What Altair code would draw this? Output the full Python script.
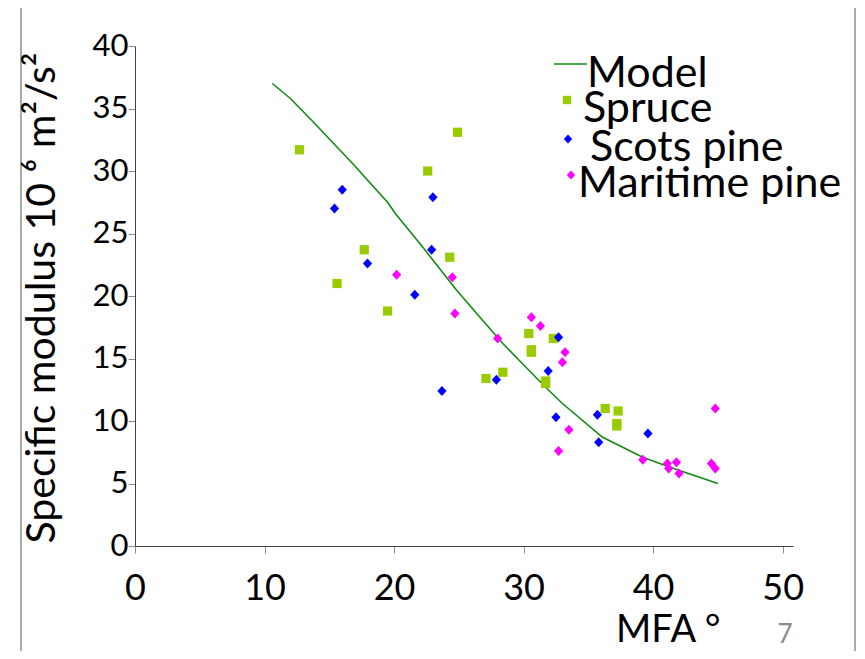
import altair as alt
import pandas as pd

# ---- data ----
model_x = [10.6, 12.0, 13.6, 16.8, 18.1, 19.5, 20.1, 22.3, 24.8, 26.8, 28.4, 29.9, 31.7, 33.0, 36.1, 39.2, 41.3, 45.0]
model_y = [37.0, 35.8, 34.1, 30.6, 29.1, 27.5, 26.6, 23.8, 20.5, 18.1, 16.2, 14.6, 12.7, 11.4, 8.7, 7.1, 6.3, 5.0]

spruce_x = [12.7, 15.6, 17.7, 19.5, 22.6, 24.3, 24.9, 27.1, 28.4, 30.4, 30.6, 30.6, 31.7, 31.7, 32.3, 36.3, 37.3, 37.2, 37.2]
spruce_y = [31.7, 21.0, 23.7, 18.8, 30.0, 23.1, 33.1, 13.4, 13.9, 17.0, 15.7, 15.5, 13.2, 13.0, 16.6, 11.0, 10.8, 9.8, 9.6]

scots_x = [15.4, 16.0, 17.95, 21.6, 22.9, 23.0, 23.7, 27.9, 31.9, 32.5, 32.7, 35.7, 35.8, 39.6]
scots_y = [27.0, 28.5, 22.6, 20.1, 23.7, 27.9, 12.4, 13.3, 14.0, 10.3, 16.7, 10.5, 8.3, 9.0]

maritime_x = [20.2, 24.5, 24.7, 28.0, 30.6, 31.3, 33.0, 33.2, 33.5, 32.7, 39.2, 41.1, 41.2, 41.8, 42.0, 44.5, 44.8, 44.8]
maritime_y = [21.7, 21.5, 18.6, 16.6, 18.3, 17.6, 14.7, 15.5, 9.3, 7.6, 6.9, 6.6, 6.2, 6.7, 5.8, 6.6, 6.2, 11.0]

species = ["Spruce", "Scots pine", "Maritime pine"]
colors = ["#99CC00", "#0000FF", "#FF00FF"]
x_ticks = [0, 10, 20, 30, 40, 50]
y_ticks = [0, 5, 10, 15, 20, 25, 30, 35, 40]

FONT = "Lato"
DIAMOND = "M0,-1.1L1,0L0,1.1L-1,0Z"

model_df = pd.DataFrame({"mfa": model_x, "modulus": model_y})
pts_df = pd.concat([
    pd.DataFrame({"mfa": spruce_x, "modulus": spruce_y, "species": "Spruce"}),
    pd.DataFrame({"mfa": scots_x, "modulus": scots_y, "species": "Scots pine"}),
    pd.DataFrame({"mfa": maritime_x, "modulus": maritime_y, "species": "Maritime pine"}),
], ignore_index=True)

xscale = alt.Scale(domain=[0, 50.8], nice=False, zero=False)
yscale = alt.Scale(domain=[0, 40], nice=False)

xaxis = alt.Axis(values=x_ticks, title=None, grid=False, labelFont=FONT, labelFontSize=36,
                 labelColor="black", labelPadding=18, tickSize=7, tickColor="#8c8c8c",
                 domainColor="#404040", labelFlush=False, labelOverlap=False)
yaxis = alt.Axis(values=y_ticks, title=None, grid=False, labelFont=FONT, labelFontSize=31,
                 labelColor="black", labelPadding=0, tickSize=7, tickColor="#8c8c8c",
                 domainColor="#404040", labelFlush=False, labelOverlap=False)

line = alt.Chart(model_df).mark_line(color="#138a13", strokeWidth=1.6).encode(
    x=alt.X("mfa:Q", scale=xscale, axis=xaxis),
    y=alt.Y("modulus:Q", scale=yscale, axis=yaxis),
)

points = alt.Chart(pts_df).mark_point(filled=True, opacity=1, size=85).encode(
    x=alt.X("mfa:Q", scale=xscale),
    y=alt.Y("modulus:Q", scale=yscale),
    color=alt.Color("species:N", scale=alt.Scale(domain=species, range=colors), legend=None),
    shape=alt.Shape("species:N", scale=alt.Scale(domain=species, range=["square", DIAMOND, DIAMOND]), legend=None),
)

one = pd.DataFrame({"a": [0]})

def txt(s, x, y, size, color="black", angle=0, align="left", baseline="alphabetic"):
    return alt.Chart(one).mark_text(font=FONT, fontSize=size, color=color, angle=angle,
                                    align=align, baseline=baseline).encode(
        x=alt.value(x), y=alt.value(y), text=alt.value(s))

ytitle = txt("Specific modulus 10 \u2076 m\u00b2/s\u00b2", -80, 252, 41, angle=270, align="center")
xtitle = txt("MFA \u00b0", 481, 596, 38)
slide_no = txt("7", 650, 597, 26, color="#8c8c8c", align="center")

leg_texts = [
    txt("Model", 452, 41, 43),
    txt("Spruce", 448, 76, 43),
    txt("Scots pine", 455, 115, 43),
    txt("Maritime pine", 443, 151, 43),
]
leg_line = alt.Chart(one).mark_rule(color="#138a13", strokeWidth=1.6).encode(
    x=alt.value(419), x2=alt.value(452), y=alt.value(18))
leg_sq = alt.Chart(one).mark_point(filled=True, opacity=1, shape="square", size=70, color="#99CC00").encode(
    x=alt.value(432), y=alt.value(54))
leg_d1 = alt.Chart(one).mark_point(filled=True, opacity=1, shape=DIAMOND, size=70, color="#0000FF").encode(
    x=alt.value(433), y=alt.value(93))
leg_d2 = alt.Chart(one).mark_point(filled=True, opacity=1, shape=DIAMOND, size=70, color="#FF00FF").encode(
    x=alt.value(436), y=alt.value(129))

frame_l = alt.Chart(one).mark_rule(color="#8c8c8c", strokeWidth=1.5).encode(
    x=alt.value(-114), y=alt.value(-38), y2=alt.value(610))
frame_r = alt.Chart(one).mark_rule(color="#8c8c8c", strokeWidth=1.5).encode(
    x=alt.value(720), y=alt.value(-38), y2=alt.value(610))

chart = alt.layer(
    frame_l, frame_r, line, points, ytitle, xtitle, slide_no,
    leg_line, leg_sq, leg_d1, leg_d2, *leg_texts
).properties(
    width=658, height=500,
    autosize=alt.AutoSizeParams(type="none"),
    padding={"left": 127, "top": 38, "right": 64, "bottom": 105},
    background="white",
).configure_view(stroke=None)

chart.save("out.html", embed_options={"renderer": "svg", "actions": False})
